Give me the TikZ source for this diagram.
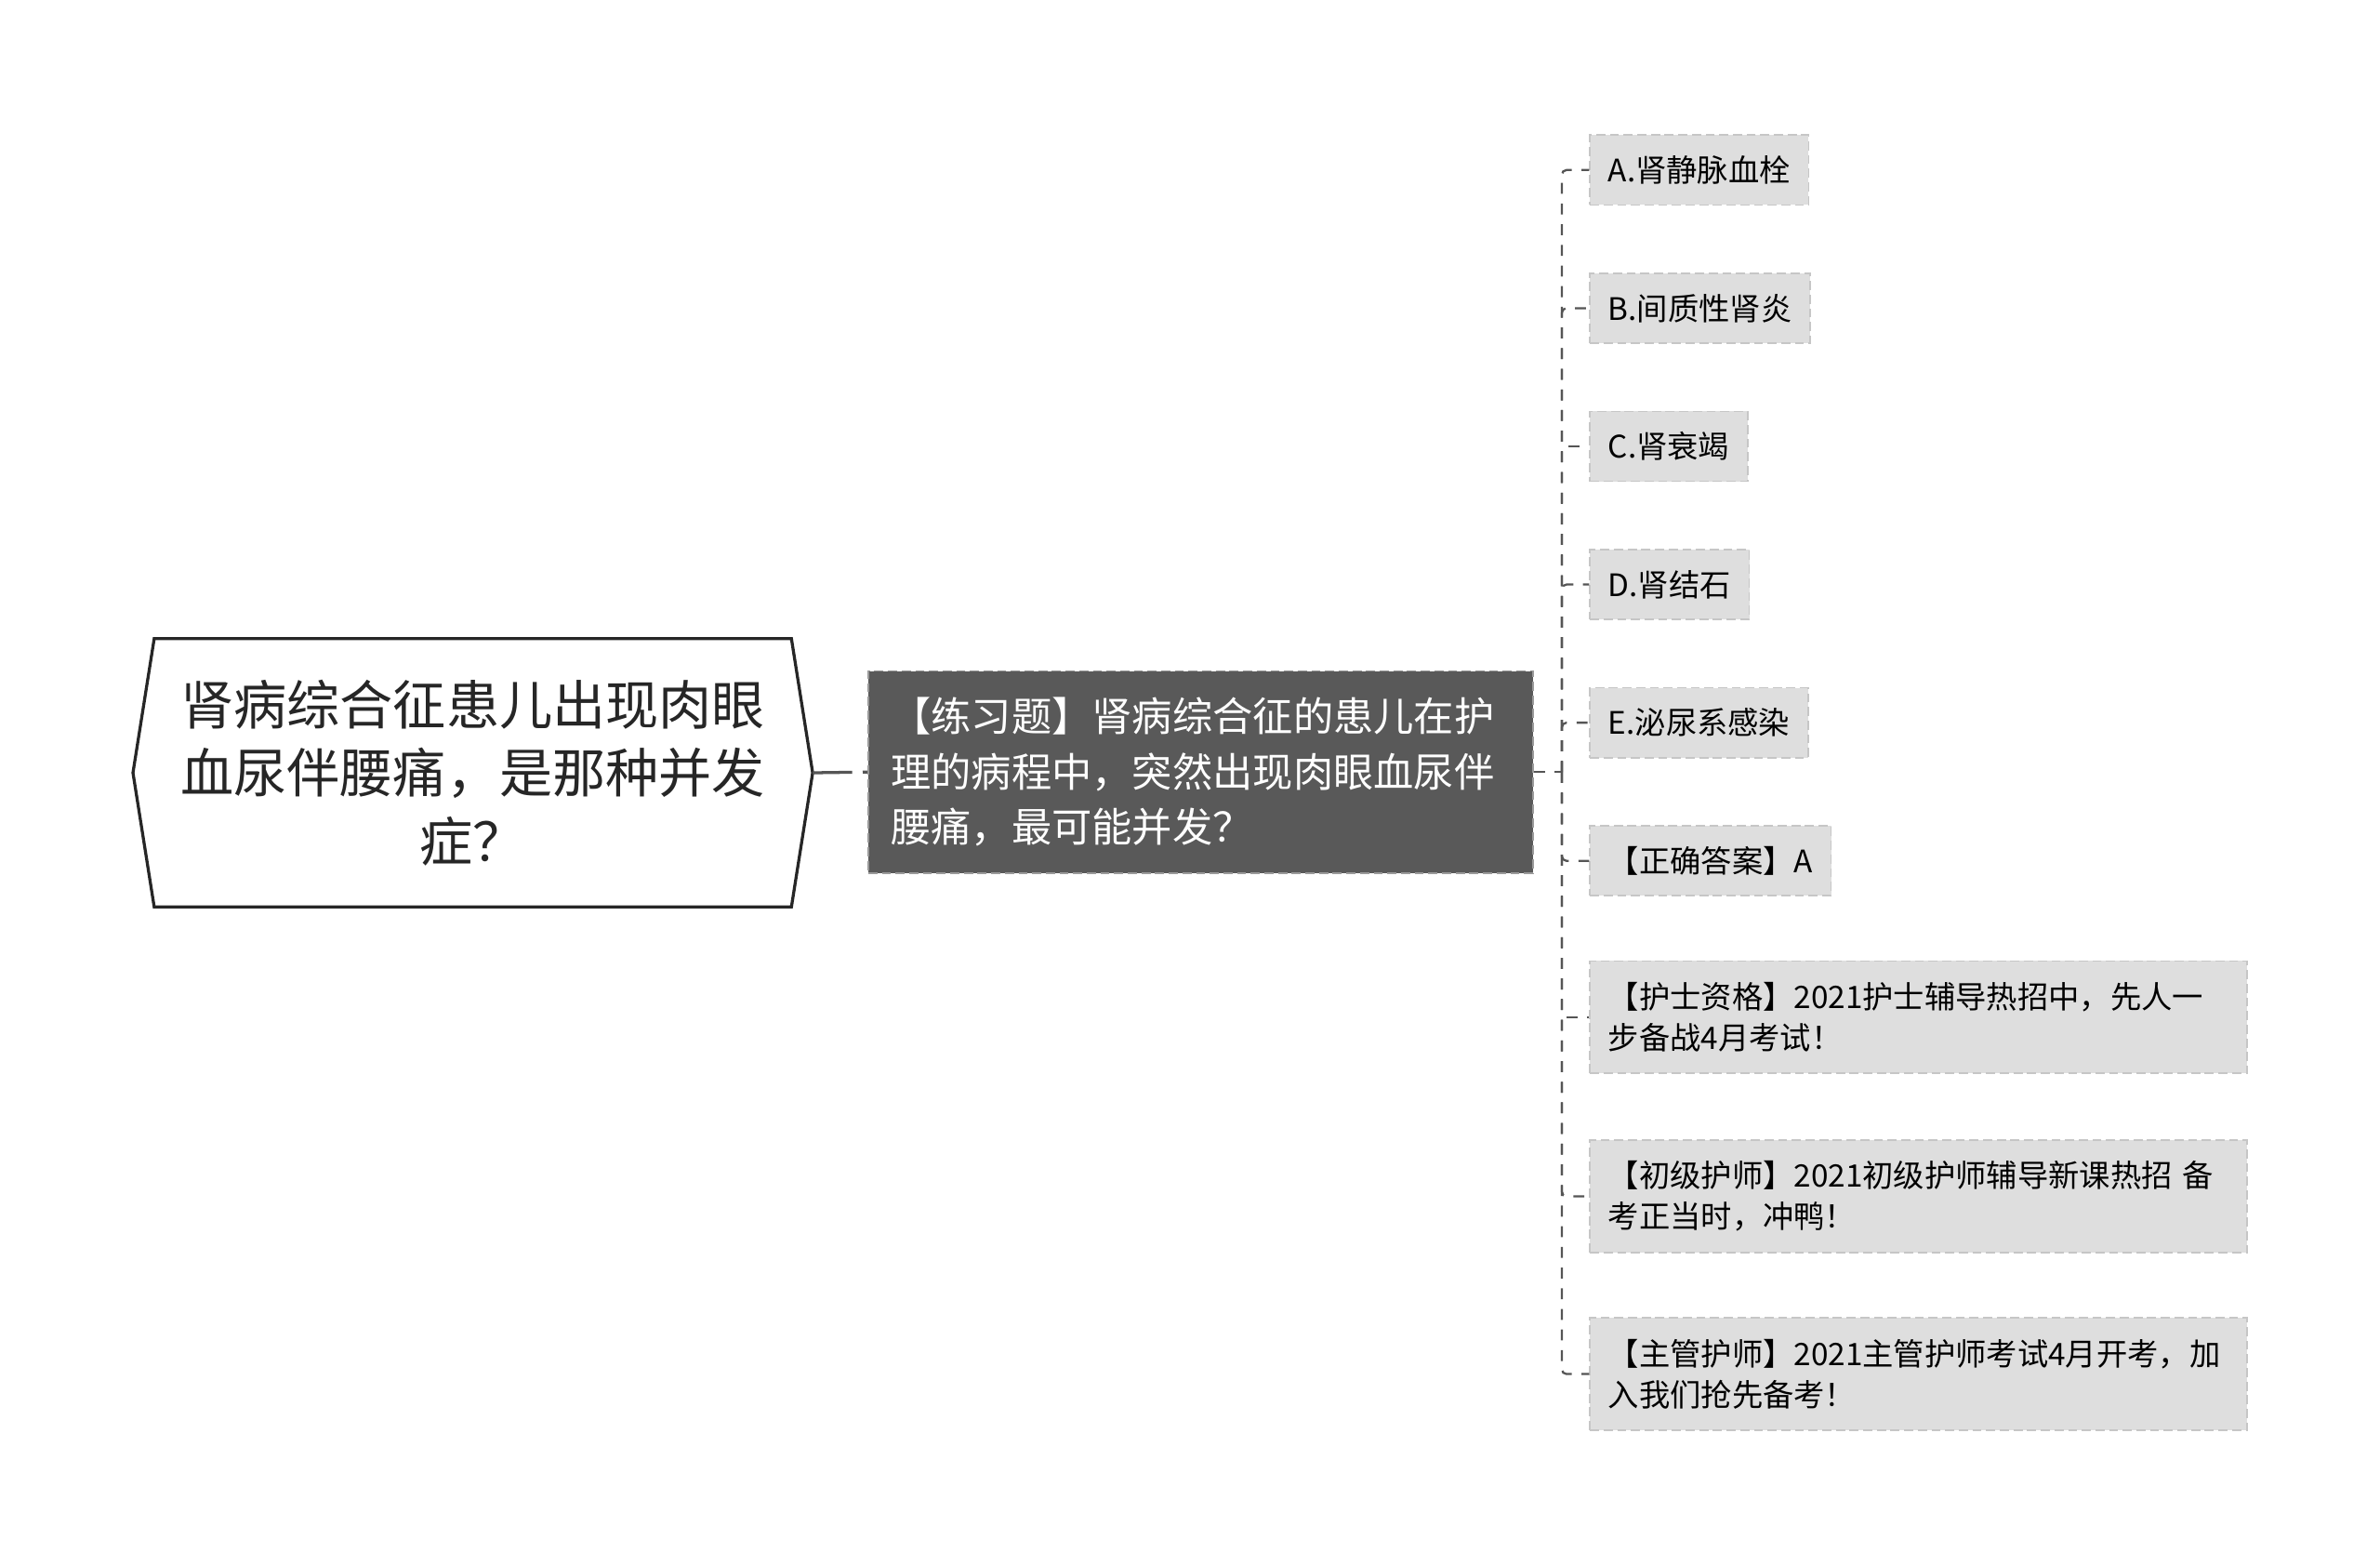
\documentclass[tikz,border=0pt]{standalone}
\usepackage{fontspec}
\setmainfont{Noto Sans CJK SC}
\usetikzlibrary{positioning, calc}

\definecolor{rootedge}{HTML}{262626}
\definecolor{pracfill}{HTML}{595959}
\definecolor{pracedge}{HTML}{9A9A9A}
\definecolor{leaffill}{HTML}{DEDEDE}
\definecolor{leafedge}{HTML}{C6C6C6}
\definecolor{linkgray}{HTML}{555555}

\begin{document}
\begin{tikzpicture}[x=0.5pt, y=-0.5pt,
    rootbox/.style={inner sep=0pt, minimum width=209.5pt, minimum height=88pt,
        align=center, text=rootedge, font=\fontsize{17.5}{22.5}\selectfont},
    pracbox/.style={draw=pracedge, fill=pracfill, line width=0.5pt, dash pattern=on 3pt off 1.5pt,
        text=white, inner xsep=7.5pt, inner ysep=0pt, text width=204pt,
        minimum height=66.5pt, align=left, font=\fontsize{13.25}{18.25}\selectfont},
    leaf/.style={draw=leafedge, fill=leaffill, line width=0.5pt, dash pattern=on 3pt off 1.5pt,
        anchor=west, inner xsep=6pt, inner ysep=0pt, minimum height=23pt,
        align=left, font=\fontsize{10.2}{13.5}\selectfont},
    longleaf/.style={leaf, text width=204.5pt, minimum height=37pt},
    link/.style={draw=linkgray, line width=0.7pt, dash pattern=on 3.6pt off 3.2pt, rounded corners=1.5pt},
    rootlink/.style={draw=linkgray, line width=1pt, dash pattern=on 13pt off 3.5pt}]
    \useasboundingbox (0,0) rectangle (1568,1031);

    % 中心主题
    \node[rootbox] (root) at (311.5,509) {肾病综合征患儿出现肉眼\\血尿伴腰痛，是那种并发\\症？};
    \coordinate (rootL) at ([xshift=-7pt]root.west);
    \coordinate (rootR) at ([xshift=7pt]root.east);
    \draw[rootedge, line width=1pt] (root.north west) -- (root.north east) -- (rootR)
        -- (root.south east) -- (root.south west) -- (rootL) -- cycle;

    % 练习题
    \node[pracbox] (prac) at (791,508.5) {【练习题】肾病综合征的患儿在护\\理的病程中，突然出现肉眼血尿伴\\腰痛，最可能并发？};
    \draw[rootlink] (rootR) -- (prac.west);

    % 选项与答案
    \node[leaf] (optA) at (1047,112) {A.肾静脉血栓};
    \node[leaf] (optB) at (1047,203) {B.间质性肾炎};
    \node[leaf] (optC) at (1047,294) {C.肾衰竭};
    \node[leaf] (optD) at (1047,385) {D.肾结石};
    \node[leaf] (optE) at (1047,476) {E.泌尿系感染};
    \node[leaf] (answer) at (1047,567) {【正确答案】A};
    \node[longleaf] (nurse) at (1047,670) {【护士资格】2021护士辅导热招中，先人一\\步备战4月考试！};
    \node[longleaf] (junior) at (1047,788) {【初级护师】2021初级护师辅导新课热招 备\\考正当时，冲鸭！};
    \node[longleaf] (chief) at (1047,905) {【主管护师】2021主管护师考试4月开考，加\\入我们抢先备考！};

    % 连线
    \coordinate (hub) at (1029,508.5);
    \draw[link] (prac.east) -- (hub);
    \foreach \n in {optA,optB,optC,optD,optE,answer,nurse,junior,chief}
        \draw[link] (hub) |- (\n.west);
\end{tikzpicture}
\end{document}
